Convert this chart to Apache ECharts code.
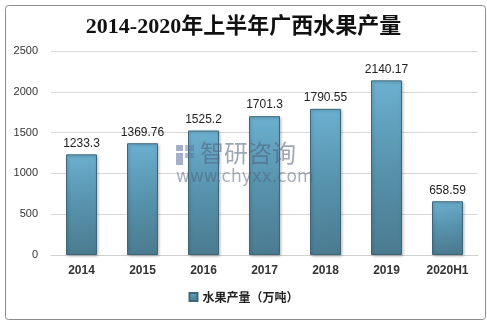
<!DOCTYPE html>
<html>
<head>
<meta charset="utf-8">
<script src="https://cdn.jsdelivr.net/npm/echarts@6/dist/echarts.min.js"></script>
<style>
html,body{margin:0;padding:0;background:#fff;}
#chart{width:487px;height:322px;}
</style>
</head>
<body>
<div id="chart"></div>
<script>
// Guangxi fruit output, 10k tonnes
const categories = ['2014', '2015', '2016', '2017', '2018', '2019', '2020H1'];
const output = [1233.3, 1369.76, 1525.2, 1701.3, 1790.55, 2140.17, 658.59];
const yTicks = [0, 500, 1000, 1500, 2000, 2500];
const seriesName = '水果产量（万吨）';
const titleText = '2014-2020年上半年广西水果产量';

const chart = echarts.init(document.getElementById('chart'));
const barFill = new echarts.graphic.LinearGradient(0, 0, 0.3, 1, [
  { offset: 0, color: '#6cb0d0' },
  { offset: 0.5, color: '#5793ad' },
  { offset: 1, color: '#4b7b90' }
]);

chart.setOption({
  animation: false,
  title: {
    text: titleText,
    left: 'center',
    top: 11,
    textStyle: {
      fontFamily: '"Liberation Serif", "Noto Sans CJK SC", serif',
      fontSize: 22,
      fontWeight: 'bold',
      color: '#111'
    }
  },
  legend: {
    bottom: 14,
    left: 'center',
    itemWidth: 8,
    itemHeight: 8,
    itemGap: 4,
    icon: 'rect',
    data: [seriesName],
    textStyle: {
      fontFamily: '"Noto Sans CJK SC", sans-serif',
      fontSize: 12,
      fontWeight: 'bold',
      color: '#222'
    }
  },
  grid: { left: 51, right: 9, top: 51, bottom: 67 },
  xAxis: {
    type: 'category',
    data: categories,
    axisLine: { lineStyle: { color: '#d0d0d0' } },
    axisTick: { show: false },
    axisLabel: {
      margin: 10,
      fontFamily: '"Liberation Sans", Arial, sans-serif',
      fontSize: 12,
      fontWeight: 'bold',
      color: '#333'
    }
  },
  yAxis: {
    type: 'value',
    min: yTicks[0],
    max: yTicks[yTicks.length - 1],
    interval: 500,
    axisLine: { show: false },
    axisTick: { show: false },
    splitLine: { lineStyle: { color: '#d9d9d9' } },
    axisLabel: {
      margin: 13,
      formatter: v => String(v),
      fontFamily: '"Liberation Sans", Arial, sans-serif',
      fontSize: 11,
      color: '#333'
    }
  },
  series: [{
    name: seriesName,
    type: 'bar',
    data: output,
    barWidth: 31,
    itemStyle: {
      color: barFill,
      borderColor: '#3e6779',
      borderWidth: 1,
      shadowColor: 'rgba(0,0,0,0.25)',
      shadowBlur: 3,
      shadowOffsetX: 1,
      shadowOffsetY: 1
    },
    label: {
      show: true,
      position: 'top',
      distance: 5,
      fontFamily: '"Liberation Sans", Arial, sans-serif',
      fontSize: 12,
      color: '#222'
    }
  }],
  graphic: [
    {
      type: 'rect',
      left: 3, top: 3,
      shape: { width: 480, height: 314, r: 3 },
      style: { fill: 'none', stroke: '#8c8c8c', lineWidth: 1 },
      silent: true
    },
    {
      type: 'group',
      left: 176, top: 141,
      z: 100,
      silent: true,
      children: [
        { type: 'rect', z: 100, shape: { x: 0, y: 0, width: 7, height: 6 }, style: { fill: 'rgba(90,110,160,0.55)' } },
        { type: 'rect', z: 100, shape: { x: 0, y: 8, width: 7, height: 12 }, style: { fill: 'rgba(90,110,160,0.55)' } },
        { type: 'rect', z: 100, shape: { x: 9, y: 0, width: 9, height: 6 }, style: { fill: 'rgba(90,110,160,0.45)' } },
        { type: 'rect', z: 100, shape: { x: 9, y: 8, width: 9, height: 5 }, style: { fill: 'rgba(90,110,160,0.45)' } },
        {
          type: 'text', z: 100, x: 24, y: -4,
          style: {
            text: '智研咨询',
            font: '24px "Noto Sans CJK SC", sans-serif',
            fill: 'rgba(80,95,120,0.55)'
          }
        },
        {
          type: 'text', z: 100, x: 0, y: 24,
          style: {
            text: 'www.chyxx.com',
            font: '17px "DejaVu Sans", sans-serif',
            fill: 'rgba(80,95,120,0.5)'
          }
        }
      ]
    }
  ]
});
</script>
</body>
</html>
